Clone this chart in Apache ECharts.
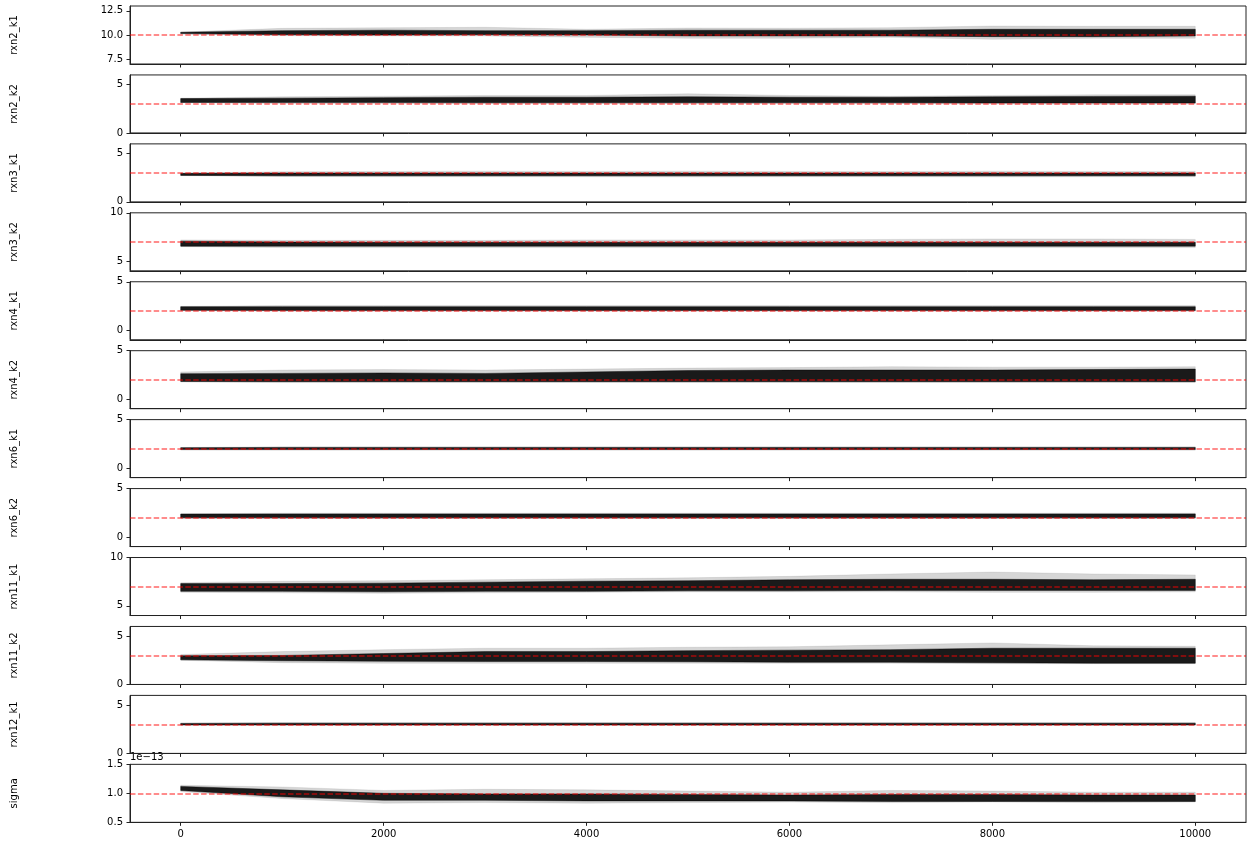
<!DOCTYPE html>
<html>
<head>
<meta charset="utf-8">
<title>trace plot</title>
<script src="https://cdn.jsdelivr.net/npm/echarts@6.0.0/dist/echarts.min.js"></script>
<style>
  html, body { margin: 0; padding: 0; background: #fff; }
  #chart { width: 1252px; height: 846px; }
</style>
</head>
<body>
<div id="chart"></div>
<script>
const steps = [0, 1000, 2000, 3000, 4000, 5000, 6000, 7000, 8000, 9000, 10000];
const xTicks = [0, 2000, 4000, 6000, 8000, 10000];

const names = ['rxn2_k1', 'rxn2_k2', 'rxn3_k1', 'rxn3_k2', 'rxn4_k1', 'rxn4_k2',
  'rxn6_k1', 'rxn6_k2', 'rxn11_k1', 'rxn11_k2', 'rxn12_k1', 'sigma'];
// true values (sigma in units of 1e-13)
const truths = [10, 3, 3, 7, 2, 2, 2, 2, 7, 3, 3, 1.0];
const yMin = [7, 0, 0, 4, -1, -1, -1, -1, 4, 0, 0, 0.5];
const yMax = [13, 6, 6, 10, 5, 5, 5, 5, 10, 6, 6, 1.5];
const yTicks = [[7.5, 10, 12.5], [0, 5], [0, 5], [5, 10], [0, 5], [0, 5],
  [0, 5], [0, 5], [5, 10], [0, 5], [0, 5], [0.5, 1.0, 1.5]];
const oneDecimal = [true, false, false, false, false, false, false, false, false, false, false, true];

// faint outer envelope of all walkers
const outerLo = [
  [10.1, 9.93, 9.9, 9.9, 9.76, 9.66, 9.66, 9.76, 9.55, 9.66, 9.66],
  [3.12, 3.05, 3.05, 3.05, 3.05, 3.05, 3.05, 3.05, 3.0, 2.97, 3.0],
  [2.72, 2.62, 2.6, 2.6, 2.6, 2.58, 2.6, 2.6, 2.58, 2.6, 2.6],
  [6.5, 6.4, 6.4, 6.4, 6.4, 6.4, 6.4, 6.4, 6.4, 6.4, 6.4],
  [2.0, 1.95, 1.95, 1.95, 1.95, 1.95, 1.95, 1.95, 1.95, 1.95, 1.95],
  [1.75, 1.7, 1.7, 1.7, 1.72, 1.72, 1.72, 1.72, 1.72, 1.72, 1.72],
  [1.88, 1.85, 1.85, 1.85, 1.85, 1.85, 1.85, 1.85, 1.85, 1.85, 1.85],
  [1.92, 1.9, 1.9, 1.9, 1.9, 1.9, 1.9, 1.9, 1.9, 1.9, 1.9],
  [6.4, 6.35, 6.3, 6.35, 6.4, 6.45, 6.45, 6.45, 6.4, 6.4, 6.45],
  [2.5, 2.25, 2.2, 2.2, 2.2, 2.2, 2.2, 2.2, 2.15, 2.15, 2.15],
  [2.92, 2.9, 2.9, 2.9, 2.9, 2.9, 2.9, 2.9, 2.9, 2.9, 2.9],
  [1.03, 0.91, 0.83, 0.84, 0.83, 0.84, 0.85, 0.84, 0.85, 0.84, 0.85]
];
const outerHi = [
  [10.3, 10.69, 10.75, 10.8, 10.59, 10.72, 10.7, 10.76, 10.93, 10.9, 10.9],
  [3.6, 3.74, 3.8, 3.88, 3.88, 4.05, 3.88, 3.8, 3.88, 3.95, 3.95],
  [2.98, 3.12, 3.15, 3.18, 3.15, 3.18, 3.15, 3.15, 3.18, 3.15, 3.15],
  [7.2, 7.15, 7.15, 7.15, 7.2, 7.2, 7.2, 7.25, 7.3, 7.3, 7.25],
  [2.45, 2.55, 2.55, 2.55, 2.55, 2.55, 2.55, 2.55, 2.55, 2.55, 2.55],
  [2.8, 3.0, 3.05, 3.0, 3.1, 3.2, 3.25, 3.35, 3.3, 3.3, 3.35],
  [2.12, 2.2, 2.2, 2.2, 2.2, 2.2, 2.2, 2.2, 2.2, 2.2, 2.2],
  [2.4, 2.45, 2.45, 2.45, 2.45, 2.45, 2.45, 2.45, 2.45, 2.45, 2.45],
  [7.4, 7.55, 7.6, 7.7, 7.8, 7.9, 8.05, 8.3, 8.5, 8.3, 8.2],
  [3.1, 3.4, 3.6, 3.75, 3.75, 3.85, 3.9, 4.1, 4.3, 4.0, 3.95],
  [3.15, 3.2, 3.2, 3.2, 3.2, 3.2, 3.2, 3.2, 3.2, 3.2, 3.2],
  [1.14, 1.11, 1.05, 1.07, 1.06, 1.04, 1.02, 1.05, 1.04, 1.02, 1.02]
];
// dense core where most walkers sit
const coreLo = [
  [10.15, 10.03, 10.0, 10.03, 10.0, 9.9, 9.9, 9.9, 9.83, 9.83, 9.9],
  [3.15, 3.15, 3.15, 3.12, 3.12, 3.12, 3.12, 3.12, 3.1, 3.1, 3.1],
  [2.74, 2.7, 2.7, 2.7, 2.7, 2.7, 2.7, 2.7, 2.7, 2.7, 2.7],
  [6.55, 6.55, 6.55, 6.55, 6.55, 6.55, 6.55, 6.55, 6.55, 6.55, 6.55],
  [2.05, 2.03, 2.03, 2.03, 2.03, 2.03, 2.03, 2.03, 2.03, 2.03, 2.03],
  [1.82, 1.8, 1.8, 1.8, 1.8, 1.8, 1.8, 1.8, 1.8, 1.8, 1.8],
  [1.9, 1.9, 1.9, 1.9, 1.9, 1.9, 1.9, 1.9, 1.9, 1.9, 1.9],
  [1.97, 1.97, 1.97, 1.97, 1.97, 1.97, 1.97, 1.97, 1.97, 1.97, 1.97],
  [6.5, 6.5, 6.45, 6.5, 6.5, 6.55, 6.55, 6.6, 6.6, 6.6, 6.6],
  [2.55, 2.45, 2.4, 2.38, 2.38, 2.35, 2.3, 2.3, 2.25, 2.2, 2.2],
  [2.95, 2.95, 2.95, 2.95, 2.95, 2.95, 2.95, 2.95, 2.95, 2.95, 2.95],
  [1.05, 0.94, 0.88, 0.88, 0.87, 0.87, 0.87, 0.86, 0.86, 0.86, 0.86]
];
const coreHi = [
  [10.28, 10.45, 10.5, 10.45, 10.45, 10.5, 10.5, 10.5, 10.59, 10.59, 10.59],
  [3.55, 3.6, 3.65, 3.7, 3.7, 3.74, 3.7, 3.7, 3.74, 3.78, 3.8],
  [2.95, 2.98, 2.98, 2.98, 2.98, 2.98, 2.98, 2.98, 2.98, 2.98, 2.98],
  [7.07, 6.98, 6.95, 6.95, 6.95, 6.95, 6.95, 6.95, 6.95, 6.95, 6.95],
  [2.42, 2.42, 2.42, 2.42, 2.42, 2.42, 2.42, 2.42, 2.42, 2.42, 2.42],
  [2.62, 2.65, 2.7, 2.65, 2.8, 2.95, 3.0, 3.0, 3.0, 3.05, 3.1],
  [2.1, 2.12, 2.12, 2.12, 2.12, 2.12, 2.12, 2.12, 2.12, 2.12, 2.12],
  [2.36, 2.38, 2.38, 2.38, 2.38, 2.38, 2.38, 2.38, 2.38, 2.38, 2.38],
  [7.3, 7.3, 7.35, 7.45, 7.55, 7.6, 7.7, 7.75, 7.75, 7.7, 7.75],
  [2.98, 3.0, 3.2, 3.4, 3.4, 3.5, 3.55, 3.6, 3.75, 3.75, 3.75],
  [3.1, 3.12, 3.12, 3.12, 3.12, 3.12, 3.12, 3.12, 3.12, 3.12, 3.12],
  [1.12, 1.06, 1.0, 0.99, 0.99, 0.98, 0.97, 0.98, 0.98, 0.97, 0.97]
];

const chart = echarts.init(document.getElementById('chart'));
const font = 'DejaVu Sans';
const grids = [], xAxes = [], yAxes = [], series = [];

// band between a low and a high edge, drawn as one polygon through the axes
function bandSeries(i, lo, hi, color, z) {
  return {
    type: 'custom', xAxisIndex: i, yAxisIndex: i, z: z, silent: true,
    data: steps.map((s, k) => [s, lo[i][k], hi[i][k]]),
    encode: { x: 0, y: [1, 2] },
    renderItem: (params, api) => {
      if (params.dataIndex !== 0) return;
      const top = steps.map((s, k) => api.coord([s, hi[i][k]]));
      const bot = steps.map((s, k) => api.coord([s, lo[i][k]])).reverse();
      return {
        type: 'polygon',
        shape: { points: top.concat(bot) },
        style: { fill: color, stroke: color, lineWidth: 0.5 }
      };
    }
  };
}

names.forEach((name, i) => {
  const last = i === names.length - 1;
  grids.push({
    left: 130, width: 1116, top: 6 + i * 68.94, height: 58,
    show: true, borderColor: '#222', borderWidth: 1, backgroundColor: 'transparent'
  });
  xAxes.push({
    type: 'value', gridIndex: i, min: -500, max: 10500,
    axisLine: { show: true, onZero: false, lineStyle: { color: '#222', width: 1 } },
    axisTick: { show: true, length: 3.5, customValues: xTicks, lineStyle: { color: '#222' } },
    axisLabel: {
      show: last, customValues: xTicks, margin: 7, color: '#000', fontSize: 10, fontFamily: font,
      formatter: v => String(v)
    },
    splitLine: { show: false }
  });
  yAxes.push({
    type: 'value', gridIndex: i, min: yMin[i], max: yMax[i],
    name: name, nameLocation: 'middle', nameGap: 111, nameRotate: 90,
    nameTextStyle: { color: '#000', fontSize: 10, fontFamily: font },
    axisLine: { show: true, onZero: false, lineStyle: { color: '#222', width: 1 } },
    axisTick: { show: true, length: 3.5, customValues: yTicks[i], lineStyle: { color: '#222' } },
    axisLabel: {
      customValues: yTicks[i], margin: 7, color: '#000', fontSize: 10, fontFamily: font,
      formatter: v => oneDecimal[i] ? v.toFixed(1) : String(v)
    },
    splitLine: { show: false }
  });

  series.push(bandSeries(i, outerLo, outerHi, 'rgba(0,0,0,0.16)', 2));
  series.push(bandSeries(i, coreLo, coreHi, 'rgba(0,0,0,0.88)', 3));

  // true value, dashed red across the whole axes
  series.push({
    type: 'line', xAxisIndex: i, yAxisIndex: i, data: [], z: 10,
    markLine: {
      silent: true, symbol: 'none', label: { show: false }, animation: false,
      lineStyle: { color: 'rgba(255,0,0,0.6)', width: 1.5, type: [5.5, 2.4] },
      data: [{ yAxis: truths[i] }]
    }
  });
});

chart.setOption({
  animation: false,
  backgroundColor: '#fff',
  grid: grids,
  xAxis: xAxes,
  yAxis: yAxes,
  series: series,
  graphic: [{
    type: 'text', left: 130, top: 752,
    style: { text: '1e\u221213', fill: '#000', font: '10px "DejaVu Sans"' }
  }]
});
</script>
</body>
</html>
